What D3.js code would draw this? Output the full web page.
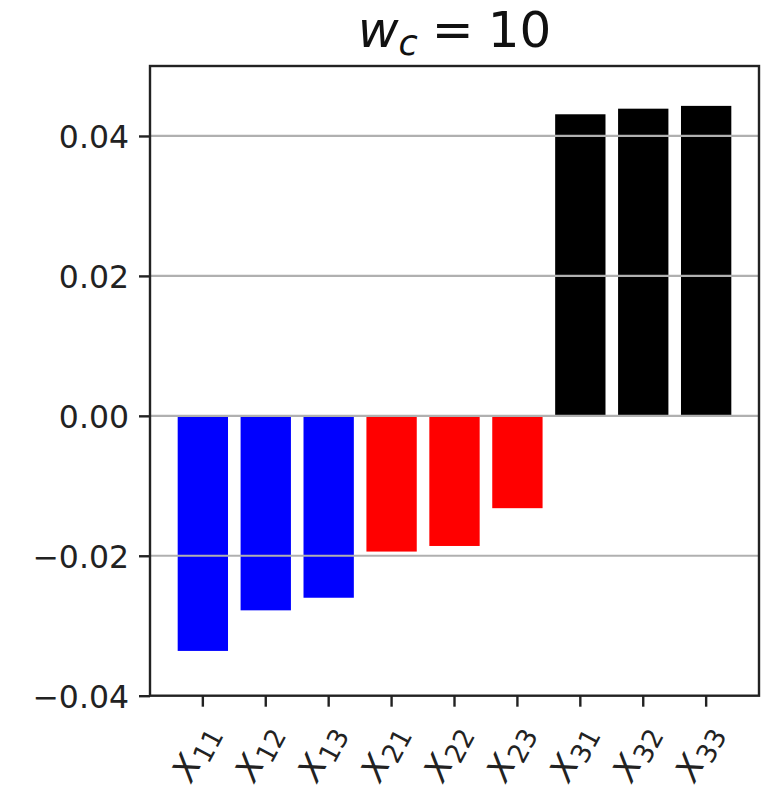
<!DOCTYPE html>
<html>
<head>
<meta charset="utf-8">
<script src="https://cdn.jsdelivr.net/npm/d3@7"></script>
<style>
  body { margin: 0; background: #fff; }
  svg { display: block; }
</style>
</head>
<body>
<div id="chart"></div>
<script>
// values
const categories = ['11', '12', '13', '21', '22', '23', '31', '32', '33']
const values = [-0.0336, -0.0278, -0.0260, -0.0194, -0.0186, -0.0132, 0.0431, 0.0439, 0.0443]
const groups = ['1', '2', '3']
const yTicks = [-0.04, -0.02, 0.00, 0.02, 0.04]
const yDomain = [-0.04, 0.05]
const titleVar = 'w'
const titleSub = 'c'
const titleValue = '10'

const width = 761
const height = 794
const plotLeft = 150
const plotRight = 759
const plotTop = 66
const plotBottom = 695.7
const font = 'DejaVu Sans, sans-serif'
const tickFont = 31.5
const labelFont = 34
const labelAngle = -62

const svg = d3.select('#chart')
  .append('svg')
  .attr('width', width)
  .attr('height', height)

const x = d3.scaleBand()
  .domain(categories)
  .range([plotLeft, plotRight])
  .paddingInner(0.2)
  .paddingOuter(0.44)

const y = d3.scaleLinear()
  .domain(yDomain)
  .range([plotBottom, plotTop])

const color = d3.scaleOrdinal()
  .domain(groups)
  .range(['#0000ff', '#ff0000', '#000000'])

// bars
svg.selectAll('rect.bar')
  .data(categories)
  .enter()
  .append('rect')
  .attr('class', 'bar')
  .attr('x', d => x(d))
  .attr('width', x.bandwidth())
  .attr('y', (d, i) => y(Math.max(0, values[i])))
  .attr('height', (d, i) => Math.abs(y(values[i]) - y(0)))
  .attr('fill', d => color(d[0]))

// grid on top of the bars
svg.selectAll('line.grid')
  .data(yTicks.filter(t => t > yDomain[0]))
  .enter()
  .append('line')
  .attr('class', 'grid')
  .attr('x1', plotLeft)
  .attr('x2', plotRight)
  .attr('y1', d => y(d))
  .attr('y2', d => y(d))
  .attr('stroke', '#b0b0b0')
  .attr('stroke-width', 2.2)

// y axis
const yAxis = svg.append('g')
  .attr('transform', `translate(${plotLeft},0)`)
  .call(d3.axisLeft(y).tickValues(yTicks).tickFormat(d3.format('.2f')).tickSize(11).tickPadding(10))
yAxis.select('.domain').remove()
yAxis.selectAll('line').attr('stroke', '#222').attr('stroke-width', 2.4)
yAxis.selectAll('text')
  .attr('font-family', font)
  .attr('font-size', tickFont)
  .attr('fill', '#222')
  .attr('dy', '0.36em')

// x ticks
svg.selectAll('line.xtick')
  .data(categories)
  .enter()
  .append('line')
  .attr('class', 'xtick')
  .attr('x1', d => x(d) + x.bandwidth() / 2)
  .attr('x2', d => x(d) + x.bandwidth() / 2)
  .attr('y1', plotBottom)
  .attr('y2', plotBottom + 11)
  .attr('stroke', '#222')
  .attr('stroke-width', 2.4)

// x tick labels: italic X with a subscript, rotated
const labels = svg.selectAll('g.xlabel')
  .data(categories)
  .enter()
  .append('g')
  .attr('class', 'xlabel')

const labelText = labels.append('text')
  .attr('font-family', font)
  .attr('font-size', labelFont)
  .attr('fill', '#222')
  .attr('transform', `rotate(${labelAngle})`)

labelText.append('tspan')
  .attr('font-style', 'italic')
  .text('X')

labelText.append('tspan')
  .attr('font-size', labelFont * 0.78)
  .attr('dy', 6)
  .attr('dx', 1)
  .text(d => d)

labels.each(function (d) {
  const box = this.getBoundingClientRect()
  const cx = x(d) + x.bandwidth() / 2 - 7
  const dx = cx - (box.left + box.width / 2)
  const dy = 791 - box.bottom
  d3.select(this).attr('transform', `translate(${dx},${dy})`)
})

// frame
svg.append('rect')
  .attr('x', plotLeft)
  .attr('y', plotTop)
  .attr('width', plotRight - plotLeft)
  .attr('height', plotBottom - plotTop)
  .attr('fill', 'none')
  .attr('stroke', '#222')
  .attr('stroke-width', 2.4)

// title
const title = svg.append('text')
  .attr('x', (plotLeft + plotRight) / 2)
  .attr('y', 47)
  .attr('text-anchor', 'middle')
  .attr('font-family', font)
  .attr('font-size', 50)
  .attr('fill', '#111')

title.append('tspan').attr('font-style', 'italic').text(titleVar)
title.append('tspan').attr('font-style', 'italic').attr('font-size', 35).attr('dy', 8).text(titleSub)
title.append('tspan').attr('dy', -8).attr('dx', 14).text('=')
title.append('tspan').attr('dx', 14).text(titleValue)
</script>
</body>
</html>
